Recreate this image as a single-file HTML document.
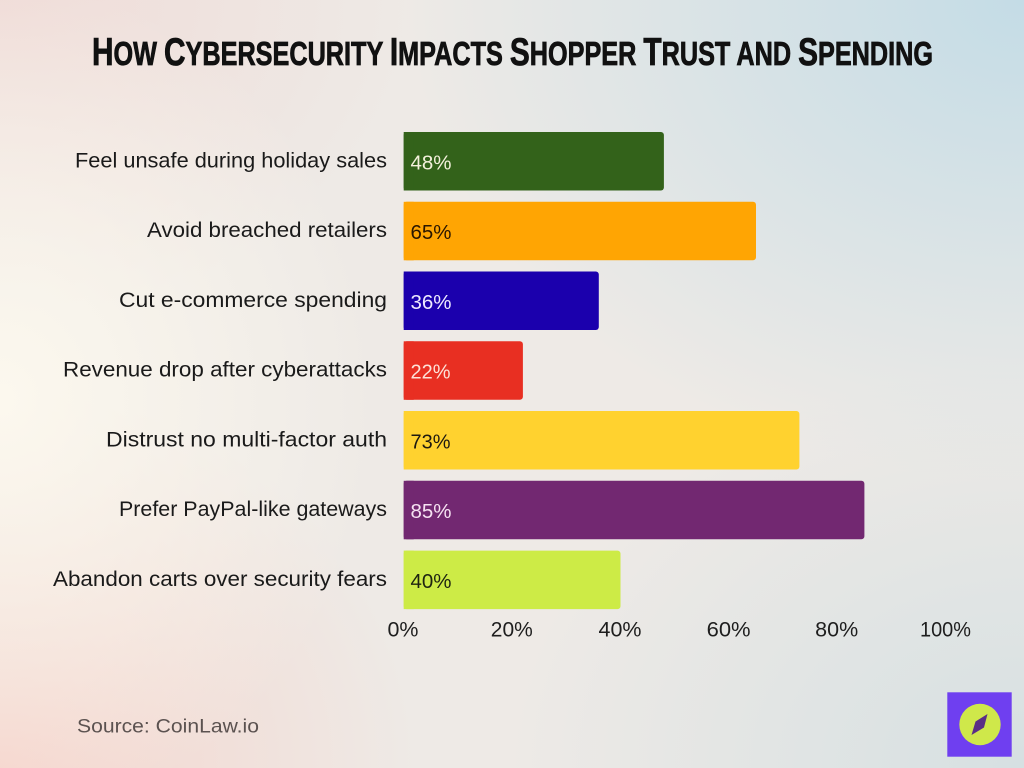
<!DOCTYPE html>
<html>
<head>
<meta charset="utf-8">
<style>
html,body{margin:0;padding:0;}
body{width:1024px;height:768px;overflow:hidden;position:relative;
background-color:#eeeae6;
background-image:
radial-gradient(ellipse 620px 480px at 1024px 0px, rgba(196,220,230,1) 0%, rgba(196,220,230,0) 100%),
radial-gradient(ellipse 380px 420px at 0px 400px, rgba(252,248,238,1) 0%, rgba(252,248,238,0) 100%),
radial-gradient(ellipse 420px 380px at 0px 768px, rgba(245,212,204,1) 0%, rgba(245,212,204,0) 100%),
radial-gradient(ellipse 420px 320px at 0px 0px, rgba(240,220,216,1) 0%, rgba(240,220,216,0) 100%),
radial-gradient(ellipse 520px 400px at 1024px 768px, rgba(214,224,226,1) 0%, rgba(214,224,226,0) 100%);
}
svg{position:absolute;left:0;top:0;}
</style>
</head>
<body>
<svg width="1024" height="768" viewBox="0 0 1024 768" xmlns="http://www.w3.org/2000/svg">
  <!-- Title -->
  <text x="92" y="65" textLength="841" lengthAdjust="spacingAndGlyphs" font-family="Liberation Sans, Arial, sans-serif" font-weight="bold" fill="#111" stroke="#111" stroke-width="0.8"><tspan font-size="39">H</tspan><tspan font-size="33">OW </tspan><tspan font-size="39">C</tspan><tspan font-size="33">YBERSECURITY </tspan><tspan font-size="39">I</tspan><tspan font-size="33">MPACTS </tspan><tspan font-size="39">S</tspan><tspan font-size="33">HOPPER </tspan><tspan font-size="39">T</tspan><tspan font-size="33">RUST AND </tspan><tspan font-size="39">S</tspan><tspan font-size="33">PENDING</tspan></text>

  <!-- Category labels -->
  <g font-family="Liberation Sans, Arial, sans-serif" font-size="21" fill="#1a1a1a" text-anchor="end">
    <text x="387" y="167.3" textLength="312" lengthAdjust="spacingAndGlyphs">Feel unsafe during holiday sales</text>
    <text x="387" y="237" textLength="240" lengthAdjust="spacingAndGlyphs">Avoid breached retailers</text>
    <text x="387" y="306.8" textLength="268" lengthAdjust="spacingAndGlyphs">Cut e-commerce spending</text>
    <text x="387" y="376.5" textLength="324" lengthAdjust="spacingAndGlyphs">Revenue drop after cyberattacks</text>
    <text x="387" y="446.3" textLength="281" lengthAdjust="spacingAndGlyphs">Distrust no multi-factor auth</text>
    <text x="387" y="516" textLength="268" lengthAdjust="spacingAndGlyphs">Prefer PayPal-like gateways</text>
    <text x="387" y="585.8" textLength="334" lengthAdjust="spacingAndGlyphs">Abandon carts over security fears</text>
  </g>

  <!-- Bars -->
  <g>
    <rect x="403.7" y="132" width="260.2" height="58.5" rx="3" fill="#33621a"/>
    <rect x="403.7" y="132" width="10" height="58.5" fill="#33621a"/>

    <rect x="403.7" y="201.8" width="352.3" height="58.5" rx="3" fill="#ffa503"/>
    <rect x="403.7" y="201.8" width="10" height="58.5" fill="#ffa503"/>

    <rect x="403.7" y="271.5" width="195.1" height="58.5" rx="3" fill="#1b00ad"/>
    <rect x="403.7" y="271.5" width="10" height="58.5" fill="#1b00ad"/>

    <rect x="403.7" y="341.3" width="119.2" height="58.5" rx="3" fill="#e82f22"/>
    <rect x="403.7" y="341.3" width="10" height="58.5" fill="#e82f22"/>

    <rect x="403.7" y="411" width="395.7" height="58.5" rx="3" fill="#ffd22f"/>
    <rect x="403.7" y="411" width="10" height="58.5" fill="#ffd22f"/>

    <rect x="403.7" y="480.8" width="460.7" height="58.5" rx="3" fill="#722871"/>
    <rect x="403.7" y="480.8" width="10" height="58.5" fill="#722871"/>

    <rect x="403.7" y="550.6" width="216.8" height="58.5" rx="3" fill="#cdeb46"/>
    <rect x="403.7" y="550.6" width="10" height="58.5" fill="#cdeb46"/>
  </g>

  <!-- Value labels -->
  <g font-family="Liberation Sans, Arial, sans-serif" font-size="20">
    <text x="410.5" y="169.3" fill="#f4f1dc" textLength="41" lengthAdjust="spacingAndGlyphs">48%</text>
    <text x="410.5" y="239" fill="#2a1600" textLength="41" lengthAdjust="spacingAndGlyphs">65%</text>
    <text x="410.5" y="308.8" fill="#eeeaff" textLength="41" lengthAdjust="spacingAndGlyphs">36%</text>
    <text x="410.5" y="378.5" fill="#fde2d8" textLength="40" lengthAdjust="spacingAndGlyphs">22%</text>
    <text x="410.5" y="448.3" fill="#1e1a10" textLength="40" lengthAdjust="spacingAndGlyphs">73%</text>
    <text x="410.5" y="518" fill="#f6e2f2" textLength="41" lengthAdjust="spacingAndGlyphs">85%</text>
    <text x="410.5" y="587.8" fill="#1e2410" textLength="41" lengthAdjust="spacingAndGlyphs">40%</text>
  </g>

  <!-- X tick labels -->
  <g font-family="Liberation Sans, Arial, sans-serif" font-size="21" fill="#1e1e1e" text-anchor="middle">
    <text x="403" y="636.7" textLength="31" lengthAdjust="spacingAndGlyphs">0%</text>
    <text x="511.8" y="636.7" textLength="42" lengthAdjust="spacingAndGlyphs">20%</text>
    <text x="620" y="636.7" textLength="43" lengthAdjust="spacingAndGlyphs">40%</text>
    <text x="728.6" y="636.7" textLength="44" lengthAdjust="spacingAndGlyphs">60%</text>
    <text x="836.7" y="636.7" textLength="43" lengthAdjust="spacingAndGlyphs">80%</text>
    <text x="945.5" y="636.7" textLength="51" lengthAdjust="spacingAndGlyphs">100%</text>
  </g>

  <!-- Source -->
  <text x="77" y="732.3" font-family="Liberation Sans, Arial, sans-serif" font-size="19.5" fill="#5b5250" textLength="182" lengthAdjust="spacingAndGlyphs">Source: CoinLaw.io</text>

  <!-- Logo -->
  <rect x="947.3" y="692.3" width="64.4" height="64.4" fill="#6f3ff0"/>
  <circle cx="980" cy="724.5" r="20.7" fill="#cfe84a"/>
  <polygon points="987.5,714 984,727.5 971.5,735 975.5,721.5" fill="#5a2f86"/>
</svg>
</body>
</html>
